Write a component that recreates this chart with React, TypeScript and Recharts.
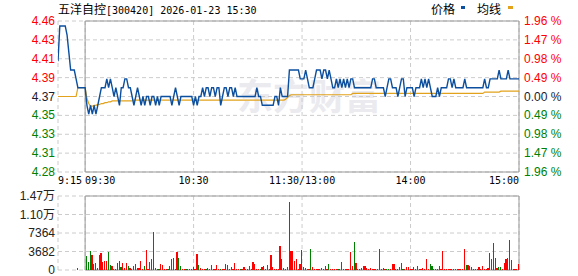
import React from 'react'
import { Bar, CartesianGrid, Cell, ComposedChart, Line, ReferenceArea, XAxis, YAxis } from 'recharts'

const PREV_CLOSE = 4.37
const PCT_STEPS = [-1.96, -1.47, -0.98, -0.49, 0, 0.49, 0.98, 1.47, 1.96]
const TIME_TICKS = [-15, 0, 60, 120, 180, 240]
const TIME_LABELS = ['9:15', '09:30', '10:30', '11:30/13:00', '14:00', '15:00']
const VOL_TICKS = [0, 3682, 7364, 11046, 14728]

// 9:15 - 9:29 call auction
const prePrice = [4.41, 4.45, 4.45, 4.45, 4.45, 4.44, 4.42, 4.4, 4.4, 4.4, 4.39, 4.38, 4.38, 4.38, 4.38]
const preAvg = [4.37, 4.37, 4.37, 4.37, 4.37, 4.37, 4.37, 4.37, 4.37, 4.37, 4.37, 4.38, 4.38, 4.38, 4.38]
const auctionVolume = 300

// 9:30 - 15:00, one per minute (lunch break collapsed)
const price = [
  4.38, 4.36, 4.35, 4.36, 4.35, 4.36, 4.35, 4.36, 4.37, 4.38,
  4.38, 4.38, 4.39, 4.38, 4.39, 4.38, 4.37, 4.38, 4.37, 4.36,
  4.38, 4.38, 4.39, 4.39, 4.38, 4.38, 4.37, 4.36, 4.37, 4.38,
  4.37, 4.36, 4.37, 4.36, 4.37, 4.37, 4.36, 4.37, 4.37, 4.36,
  4.37, 4.36, 4.37, 4.37, 4.37, 4.37, 4.37, 4.37, 4.36, 4.37,
  4.38, 4.37, 4.36, 4.37, 4.37, 4.37, 4.37, 4.37, 4.37, 4.37,
  4.36, 4.37, 4.36, 4.37, 4.37, 4.38, 4.37, 4.38, 4.38, 4.37,
  4.38, 4.38, 4.37, 4.38, 4.38, 4.36, 4.37, 4.38, 4.38, 4.37,
  4.38, 4.38, 4.37, 4.38, 4.37, 4.37, 4.37, 4.37, 4.37, 4.37,
  4.37, 4.37, 4.37, 4.37, 4.37, 4.38, 4.37, 4.37, 4.36, 4.36,
  4.36, 4.36, 4.36, 4.36, 4.36, 4.37, 4.37, 4.36, 4.38, 4.37,
  4.37, 4.37, 4.37, 4.4, 4.4, 4.4, 4.4, 4.4, 4.4, 4.39,
  4.39, 4.39, 4.4, 4.39, 4.38, 4.38, 4.38, 4.39, 4.4, 4.4,
  4.4, 4.39, 4.4, 4.4, 4.39, 4.4, 4.39, 4.38, 4.38, 4.39,
  4.38, 4.39, 4.38, 4.39, 4.38, 4.39, 4.38, 4.39, 4.39, 4.38,
  4.38, 4.38, 4.38, 4.38, 4.38, 4.38, 4.38, 4.38, 4.38, 4.39,
  4.39, 4.38, 4.38, 4.38, 4.38, 4.38, 4.37, 4.38, 4.39, 4.39,
  4.38, 4.38, 4.38, 4.37, 4.38, 4.39, 4.39, 4.37, 4.38, 4.38,
  4.38, 4.38, 4.37, 4.38, 4.38, 4.38, 4.39, 4.38, 4.39, 4.38,
  4.39, 4.38, 4.37, 4.37, 4.37, 4.38, 4.37, 4.38, 4.38, 4.38,
  4.38, 4.39, 4.39, 4.38, 4.39, 4.38, 4.38, 4.38, 4.38, 4.38,
  4.39, 4.38, 4.38, 4.38, 4.38, 4.38, 4.38, 4.38, 4.38, 4.38,
  4.38, 4.39, 4.38, 4.38, 4.39, 4.39, 4.39, 4.39, 4.39, 4.4,
  4.39, 4.39, 4.39, 4.39, 4.4, 4.39, 4.39, 4.39, 4.39, 4.39,
  4.39,
]

const avgPrice = [
  4.38, 4.368, 4.362, 4.359, 4.359, 4.36, 4.36, 4.361, 4.361, 4.362,
  4.362, 4.363, 4.363, 4.364, 4.364, 4.365, 4.365, 4.365, 4.365, 4.365,
  4.365, 4.365, 4.365, 4.365, 4.365, 4.365, 4.365, 4.366, 4.366, 4.366,
  4.366, 4.366, 4.366, 4.366, 4.366, 4.366, 4.366, 4.366, 4.366, 4.366,
  4.366, 4.366, 4.366, 4.366, 4.366, 4.366, 4.366, 4.366, 4.366, 4.366,
  4.366, 4.366, 4.366, 4.366, 4.366, 4.366, 4.366, 4.366, 4.366, 4.366,
  4.366, 4.366, 4.366, 4.366, 4.366, 4.366, 4.366, 4.366, 4.366, 4.366,
  4.366, 4.366, 4.366, 4.366, 4.366, 4.366, 4.366, 4.366, 4.366, 4.366,
  4.366, 4.366, 4.366, 4.366, 4.366, 4.366, 4.366, 4.366, 4.366, 4.366,
  4.366, 4.366, 4.366, 4.366, 4.366, 4.366, 4.366, 4.366, 4.366, 4.366,
  4.366, 4.366, 4.366, 4.366, 4.366, 4.366, 4.366, 4.366, 4.366, 4.366,
  4.366, 4.367, 4.369, 4.371, 4.372, 4.372, 4.372, 4.372, 4.372, 4.372,
  4.372, 4.372, 4.372, 4.372, 4.372, 4.372, 4.372, 4.372, 4.372, 4.372,
  4.372, 4.372, 4.372, 4.372, 4.372, 4.372, 4.372, 4.372, 4.372, 4.372,
  4.372, 4.372, 4.372, 4.372, 4.372, 4.372, 4.372, 4.372, 4.3735, 4.3735,
  4.3735, 4.3735, 4.3735, 4.3735, 4.3735, 4.3735, 4.3735, 4.3735, 4.3735, 4.3735,
  4.3735, 4.3735, 4.3735, 4.3735, 4.3735, 4.3735, 4.3735, 4.3735, 4.3735, 4.3735,
  4.3735, 4.3735, 4.3735, 4.3735, 4.3735, 4.3735, 4.3735, 4.3735, 4.3735, 4.3735,
  4.3735, 4.3735, 4.3735, 4.3735, 4.3735, 4.3735, 4.3735, 4.3735, 4.3735, 4.3735,
  4.3735, 4.3735, 4.3735, 4.3735, 4.3735, 4.3735, 4.3735, 4.3735, 4.3735, 4.3735,
  4.3735, 4.3735, 4.3735, 4.3735, 4.3735, 4.3735, 4.3735, 4.3735, 4.3735, 4.3735,
  4.3735, 4.3735, 4.3735, 4.3735, 4.3735, 4.3735, 4.3735, 4.3735, 4.3735, 4.3735,
  4.3735, 4.375, 4.375, 4.375, 4.375, 4.375, 4.375, 4.375, 4.375, 4.375,
  4.376, 4.376, 4.376, 4.376, 4.376, 4.376, 4.376, 4.376, 4.376, 4.376,
  4.376,
]

// 9:31 - 15:00 volume (shares x100)
const volume = [
  2790, 1590, 3780, 2990, 1100, 1390, 460, 2990, 3380, 1660,
  1790, 1790, 3580, 990, 800, 270, 270, 1390, 1790, 530,
  1390, 330, 1390, 800, 330, 270, 800, 1190, 400, 400,
  1790, 270, 800, 3980, 270, 1590, 2190, 7560, 460, 270,
  270, 1190, 990, 270, 270, 270, 800, 2190, 2390, 200,
  3580, 2390, 800, 200, 200, 200, 200, 200, 200, 600,
  200, 3180, 990, 400, 200, 200, 200, 400, 200, 990,
  200, 200, 990, 200, 200, 200, 200, 1190, 1060, 200,
  600, 200, 1390, 200, 200, 200, 200, 600, 200, 200,
  800, 200, 1590, 1190, 200, 200, 200, 600, 800, 200,
  990, 200, 2990, 600, 200, 200, 200, 4770, 2190, 400,
  200, 660, 13530, 3780, 3780, 1790, 2190, 200, 1190, 3980,
  600, 300, 200, 200, 4180, 600, 200, 200, 200, 200,
  300, 200, 800, 200, 1190, 200, 200, 200, 200, 200,
  200, 1590, 200, 200, 200, 200, 3580, 800, 5570, 1390,
  200, 200, 300, 800, 800, 300, 200, 300, 200, 200,
  200, 200, 4180, 200, 400, 200, 200, 200, 200, 1190,
  1190, 200, 200, 600, 1390, 200, 200, 600, 600, 200,
  200, 600, 200, 800, 200, 200, 400, 200, 2190, 200,
  1190, 800, 200, 200, 200, 800, 200, 3780, 200, 200,
  200, 200, 200, 200, 200, 200, 200, 200, 200, 4180,
  1000, 1000, 800, 600, 200, 200, 200, 600, 200, 800,
  200, 200, 400, 3380, 2190, 5370, 2390, 400, 600, 600,
  200, 1390, 2190, 2390, 5970, 1990, 200, 200, 200, 1190,
]

// u = up tick (red), d = down tick (green)
const volDir =
  'dddudduuuu' + 'uudduuudud' + 'uuuduududu' + 'uuduuuduuu' + 'duuuuduudu' +
  'udduuduuud' + 'uuduuuduud' + 'uuuuduuudu' + 'duuuuduuuu' + 'uuuuuududu' +
  'uuuuuuuudu' + 'uuuuuuuuud' + 'uududuuuuu' + 'uududuuuud' + 'uuuuuuuudu' +
  'uuuuuuuuuu' + 'uuuuuudduu' + 'uuuuuduuuu' + 'uuuuuuuuuu' + 'dduuuuuuuu' +
  'uuuduuuuuu' + 'duuuuuuuuu' + 'uuuuuuuudd' + 'uuuuuduuuu'

const BLUE = '#0b4f9e'
const ORANGE = '#e2a21c'
const RED = '#ff0000'
const GREEN = '#008000'
const DARK = '#1a1a2e'
const GRID = '#cccccc'
const BORDER = '#999999'
const NUM_FONT = '"Liberation Sans", Arial, sans-serif'
const MONO_FONT = '"DejaVu Sans Mono", monospace'
const CJK_FONT = '"Noto Sans CJK SC", sans-serif'

const priceTicks = PCT_STEPS.map((p) => PREV_CLOSE * (1 + p / 100))
const priceDomain: [number, number] = [priceTicks[0], priceTicks[priceTicks.length - 1]]

const priceRows = [
  ...prePrice.map((p, i) => ({ m: i - 15, price: p, avg: preAvg[i] })),
  ...price.map((p, i) => ({ m: i, price: p, avg: avgPrice[i] })),
]

const volRows = [
  { m: -4, vol: auctionVolume, up: true },
  ...volume.map((v, i) => ({ m: i + 1, vol: v, up: volDir[i] === 'u' })),
]

function levelColor(v: number, mid: number) {
  if (v > mid + 1e-6) return RED
  if (v < mid - 1e-6) return GREEN
  return DARK
}

function TimeTick({ x, y, payload }: any) {
  const idx = TIME_TICKS.indexOf(payload.value)
  const anchor = idx <= 1 ? 'start' : idx === TIME_TICKS.length - 1 ? 'end' : 'middle'
  return (
    <text x={x} y={y} dy="0.71em" textAnchor={anchor} fontSize={10} fontFamily={MONO_FONT} fill="#000">
      {TIME_LABELS[idx]}
    </text>
  )
}

function PriceTick({ x, y, payload }: any) {
  const v = payload.value as number
  return (
    <text x={x} y={y} dy={4} textAnchor="end" fontSize={12} fontFamily={NUM_FONT} fill={levelColor(v, PREV_CLOSE)}>
      {v.toFixed(2)}
    </text>
  )
}

function PctTick({ x, y, payload }: any) {
  const v = payload.value as number
  return (
    <text x={x} y={y} dy={4} textAnchor="start" fontSize={12} fontFamily={NUM_FONT} fill={levelColor(v, 0)}>
      {`${Math.abs(v).toFixed(2)} %`}
    </text>
  )
}

function VolTick({ x, y, payload }: any) {
  const v = payload.value as number
  const label = v >= 10000 ? `${(v / 10000).toFixed(2)}万` : String(v)
  return (
    <text x={x} y={y} dy={4} textAnchor="end" fontSize={12} fontFamily={`${NUM_FONT}, ${CJK_FONT}`} fill="#222">
      {label}
    </text>
  )
}

export default function App() {
  return (
    <div style={{ position: 'absolute', left: 0, top: 0, width: 578, height: 276, background: '#fff', overflow: 'hidden' }}>
      {/* watermark */}
      <div
        style={{
          position: 'absolute', left: 237, top: 74, fontSize: 36, lineHeight: '40px',
          fontWeight: 700, fontFamily: CJK_FONT, color: '#eaeaef', whiteSpace: 'nowrap',
        }}
      >
        东方财富
      </div>

      <div style={{ position: 'absolute', left: 58, top: 1, whiteSpace: 'nowrap', color: '#000', lineHeight: '16px' }}>
        <span style={{ fontFamily: CJK_FONT, fontSize: 12 }}>五洋自控</span>
        <span style={{ fontFamily: MONO_FONT, fontSize: 10 }}>[300420] 2026-01-23 15:30</span>
      </div>

      <div style={{ position: 'absolute', left: 431, top: 1, fontFamily: CJK_FONT, fontSize: 12, lineHeight: '16px', color: '#000' }}>价格</div>
      <div style={{ position: 'absolute', left: 461, top: 6, width: 4, height: 3, background: BLUE }} />
      <div style={{ position: 'absolute', left: 477, top: 1, fontFamily: CJK_FONT, fontSize: 12, lineHeight: '16px', color: '#000' }}>均线</div>
      <div style={{ position: 'absolute', left: 508, top: 6, width: 5, height: 3, background: ORANGE }} />

      <div style={{ position: 'absolute', left: 0, top: 0 }}>
        <ComposedChart width={578} height={190} data={priceRows} margin={{ top: 21, right: 0, bottom: 0, left: 0 }}>
          <CartesianGrid yAxisId="p" stroke={GRID} strokeDasharray="4 3" />
          <XAxis
            dataKey="m"
            type="number"
            domain={[-15, 240]}
            ticks={TIME_TICKS}
            interval={0}
            height={18}
            tickSize={0}
            tickMargin={5}
            axisLine={false}
            tickLine={false}
            tick={TimeTick}
            allowDataOverflow
          />
          <YAxis
            yAxisId="p"
            type="number"
            domain={priceDomain}
            ticks={priceTicks}
            interval={0}
            width={58}
            tickSize={0}
            tickMargin={3}
            axisLine={false}
            tickLine={false}
            tick={PriceTick}
            allowDataOverflow
          />
          <YAxis
            yAxisId="pct"
            orientation="right"
            type="number"
            domain={[-1.96, 1.96]}
            ticks={PCT_STEPS}
            interval={0}
            width={59}
            tickSize={0}
            tickMargin={5}
            axisLine={false}
            tickLine={false}
            tick={PctTick}
            allowDataOverflow
          />
          <ReferenceArea yAxisId="p" x1={0} x2={240} y1={priceDomain[0]} y2={priceDomain[1]} fill="none" stroke={BORDER} strokeWidth={1} ifOverflow="visible" />
          <Line yAxisId="p" dataKey="avg" type="linear" stroke={ORANGE} strokeWidth={1.2} dot={false} activeDot={false} isAnimationActive={false} />
          <Line yAxisId="p" dataKey="price" type="linear" stroke={BLUE} strokeWidth={1.4} dot={false} activeDot={false} isAnimationActive={false} />
        </ComposedChart>
      </div>

      <div style={{ position: 'absolute', left: 0, top: 190 }}>
        <ComposedChart width={578} height={86} data={volRows} margin={{ top: 6, right: 59, bottom: 6, left: 0 }}>
          <CartesianGrid stroke={GRID} strokeDasharray="4 3" />
          <XAxis dataKey="m" type="number" domain={[-15, 240]} ticks={TIME_TICKS} interval={0} hide allowDataOverflow />
          <YAxis
            type="number"
            domain={[0, VOL_TICKS[VOL_TICKS.length - 1]]}
            ticks={VOL_TICKS}
            interval={0}
            width={58}
            tickSize={0}
            tickMargin={3}
            axisLine={false}
            tickLine={false}
            tick={VolTick}
            allowDataOverflow
          />
          <ReferenceArea x1={0} x2={240} y1={0} y2={VOL_TICKS[VOL_TICKS.length - 1]} fill="none" stroke={BORDER} strokeWidth={1} ifOverflow="visible" />
          <Bar dataKey="vol" barSize={1.2} isAnimationActive={false}>
            {volRows.map((r) => (
              <Cell key={r.m} fill={r.up ? RED : GREEN} shapeRendering="crispEdges" />
            ))}
          </Bar>
        </ComposedChart>
      </div>
    </div>
  )
}
